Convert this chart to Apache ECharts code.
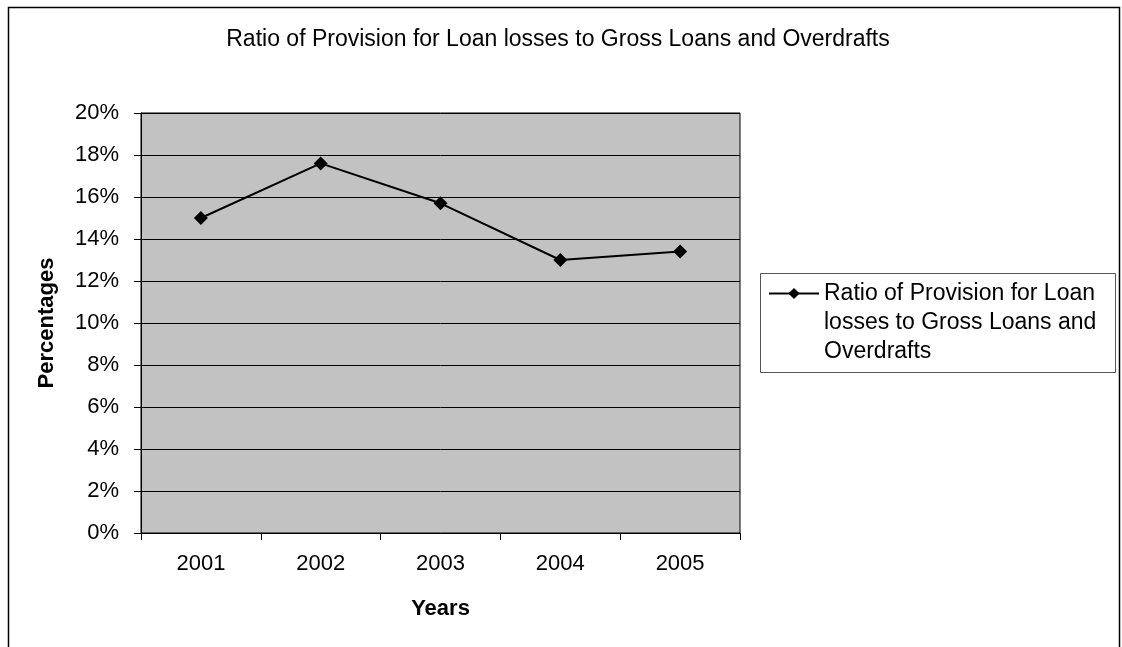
<!DOCTYPE html>
<html>
<head>
<meta charset="utf-8">
<script src="https://cdn.jsdelivr.net/npm/echarts@6/dist/echarts.min.js"></script>
<style>
  html, body { margin: 0; padding: 0; background: #fff; }
  #chart { width: 1122px; height: 647px; }
</style>
</head>
<body>
<div id="chart"></div>
<script>
const years = ['2001', '2002', '2003', '2004', '2005']
const ratio = [15.0, 17.6, 15.7, 13.0, 13.4]
const seriesName = 'Ratio of Provision for Loan\nlosses to Gross Loans and\nOverdrafts'
const titleText = 'Ratio of Provision for Loan losses to Gross Loans and Overdrafts'

const font = '"Liberation Sans", Arial, sans-serif'
let c = echarts.init(document.getElementById('chart'))
let option = {
  animation: false,
  title: {
    text: titleText,
    left: 553,
    top: 23,
    textAlign: 'center',
    textStyle: { fontFamily: font, fontSize: 23, fontWeight: 'normal', color: '#000' }
  },
  grid: {
    left: 141,
    right: 382,
    top: 113,
    bottom: 114,
    show: true,
    backgroundColor: '#c2c2c2',
    borderColor: '#000',
    borderWidth: 1
  },
  legend: {
    left: 768,
    top: 221,
    padding: 0,
    itemWidth: 50,
    itemHeight: 14,
    // two blank lines so the marker sits beside the first text line
    formatter: name => '\n\n' + name,
    textStyle: { fontFamily: font, fontSize: 23, color: '#000', lineHeight: 29 },
    data: [seriesName]
  },
  xAxis: {
    type: 'category',
    data: years,
    boundaryGap: true,
    name: 'Years',
    nameLocation: 'middle',
    nameGap: 65,
    nameTextStyle: { fontFamily: font, fontSize: 22, fontWeight: 'bold', color: '#000' },
    axisLine: { lineStyle: { color: '#000', width: 1 } },
    axisTick: { show: true, length: 7, lineStyle: { color: '#000' } },
    axisLabel: { fontFamily: font, fontSize: 22, color: '#000', margin: 20 },
    splitLine: { show: false }
  },
  yAxis: {
    type: 'value',
    min: 0,
    max: 20,
    interval: 2,
    name: 'Percentages',
    nameLocation: 'middle',
    nameGap: 83,
    nameRotate: 90,
    nameTextStyle: { fontFamily: font, fontSize: 22, fontWeight: 'bold', color: '#000' },
    axisLine: { show: true, lineStyle: { color: '#000', width: 1 } },
    axisTick: { show: true, length: 7, lineStyle: { color: '#000' } },
    axisLabel: { fontFamily: font, fontSize: 22, color: '#000', margin: 22, formatter: '{value}%' },
    splitLine: { show: true, lineStyle: { color: '#000', width: 1 } }
  },
  series: [
    {
      name: seriesName,
      type: 'line',
      data: ratio,
      symbol: 'diamond',
      symbolSize: 14,
      color: '#000',
      lineStyle: { color: '#000', width: 2 },
      itemStyle: { color: '#000' }
    }
  ],
  graphic: [
    {
      type: 'rect',
      shape: { x: 8.5, y: 7.5, width: 1111, height: 700 },
      style: { fill: 'none', stroke: '#000', lineWidth: 1.5 },
      silent: true
    },
    {
      type: 'rect',
      shape: { x: 760.5, y: 273.5, width: 355, height: 99 },
      style: { fill: 'none', stroke: '#555', lineWidth: 1 },
      silent: true
    }
  ]
}
c.setOption(option)
</script>
</body>
</html>
